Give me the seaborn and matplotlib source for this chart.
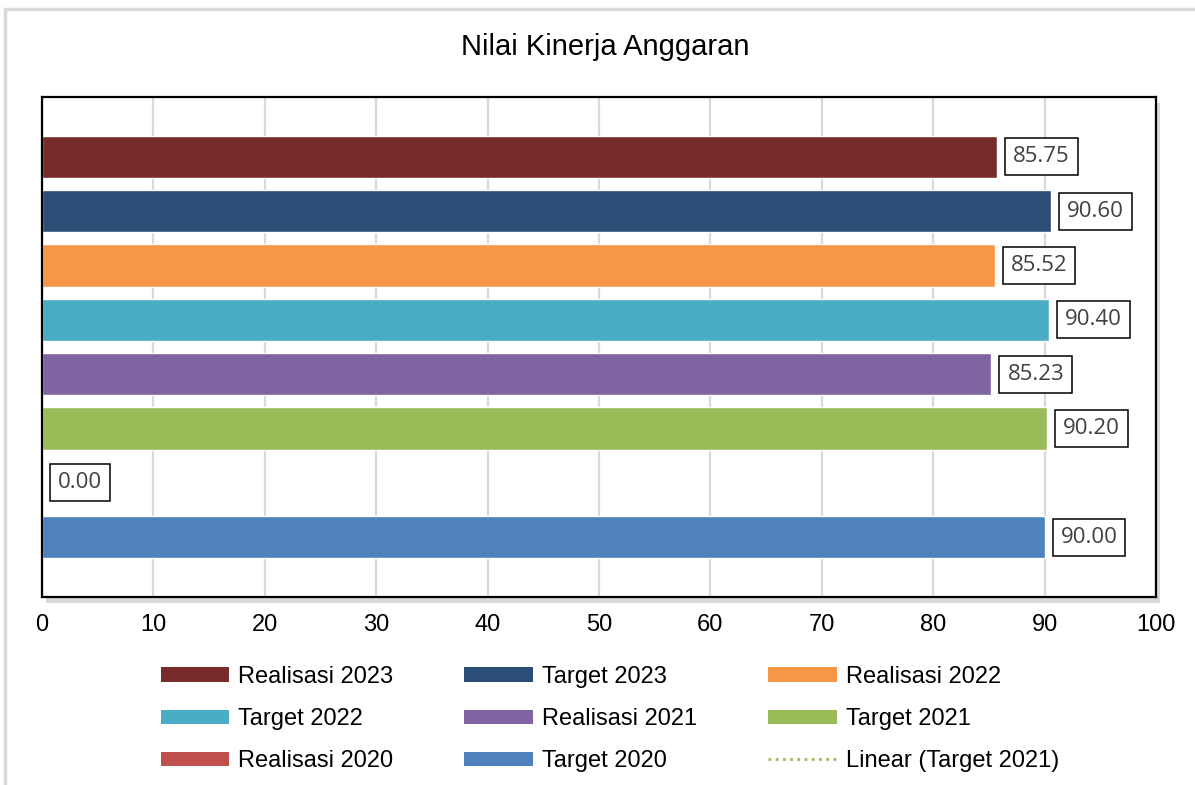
import matplotlib
matplotlib.use("Agg")
import matplotlib.pyplot as plt
import matplotlib.patheffects as pe
from matplotlib.patches import Patch, Rectangle
from matplotlib.lines import Line2D
import seaborn as sns
import pandas as pd

# data
categories = ["Realisasi 2023", "Target 2023", "Realisasi 2022", "Target 2022",
              "Realisasi 2021", "Target 2021", "Realisasi 2020", "Target 2020"]
values = [85.75, 90.60, 85.52, 90.40, 85.23, 90.20, 0.00, 90.00]
colors = ["#772C2A", "#2C4D75", "#F79646", "#4BACC6",
          "#8064A2", "#9BBB59", "#C0504D", "#4F81BD"]
trend_label = "Linear (Target 2021)"
x_ticks = [0, 10, 20, 30, 40, 50, 60, 70, 80, 90, 100]

df = pd.DataFrame({"kategori": categories, "nilai": values})

sns.set_style("white")
plt.rcParams["font.family"] = ["Liberation Sans", "DejaVu Sans"]
plt.rcParams["text.color"] = "black"
plt.rcParams["xtick.color"] = "black"

fig = plt.figure(figsize=(11.95, 7.85), dpi=100)
W, H = 1195, 785
ax = fig.add_axes([42 / W, 1 - 597 / H, (1156 - 42) / W, (597 - 97) / H])

# chart frame (light gray)
fig.patches.append(Rectangle((5 / W, -0.1), 1.2, 1.1 - 9 / H, transform=fig.transFigure,
                             fill=False, edgecolor="#d9d9d9", linewidth=2.5, zorder=0))

sns.barplot(data=df, y="kategori", x="nilai", hue="kategori", palette=colors,
            order=categories, hue_order=categories, dodge=False, legend=False,
            width=0.78, orient="h", saturation=1, ax=ax)

ax.set_xlim(0, 100)
ax.set_ylim(8.1, -1.1)
ax.set_xticks(x_ticks)
ax.set_xticklabels([str(t) for t in x_ticks], fontsize=17)
ax.set_yticks([])
ax.set_xlabel("")
ax.set_ylabel("")
ax.tick_params(axis="x", length=0, pad=12, colors="black")
ax.grid(axis="x", color="#d9d9d9", linewidth=1.6)
ax.set_axisbelow(True)

for s in ax.spines.values():
    s.set_visible(True)
    s.set_color("black")
    s.set_linewidth(1.6)

ax.patch.set_path_effects([pe.SimplePatchShadow(offset=(3, -4), shadow_rgbFace="#aaaaaa", alpha=0.45),
                           pe.Normal()])

# data labels in boxes
for i, v in enumerate(values):
    ax.annotate(f"{v:.2f}", xy=(v, i), xytext=(11.5, 0), textcoords="offset points",
                ha="left", va="center", fontsize=16, color="#404040",
                family=["Open Sans", "DejaVu Sans"],
                bbox=dict(boxstyle="square,pad=0.36", facecolor="white",
                          edgecolor="black", linewidth=1.1))

fig.text(605 / W, 1 - 47 / H, "Nilai Kinerja Anggaran", ha="center", va="center",
         fontsize=21, color="black")

# legend (row-major order, matplotlib fills columns first)
handles = [Patch(facecolor=c, edgecolor="none") for c in colors]
handles.append(Line2D([], [], color="#9BBB59", linestyle=(0, (1, 1.6)), linewidth=2))
labels = categories + [trend_label]
order = [0, 3, 6, 1, 4, 7, 2, 5, 8]
fig.legend([handles[k] for k in order], [labels[k] for k in order],
           loc="center", bbox_to_anchor=(610 / W, 1 - 719 / H),
           ncol=3, frameon=False, fontsize=17, handlelength=2.9, handleheight=0.55,
           handletextpad=0.4, columnspacing=3.0, labelspacing=0.85)

fig.savefig("out.png", dpi=100)
